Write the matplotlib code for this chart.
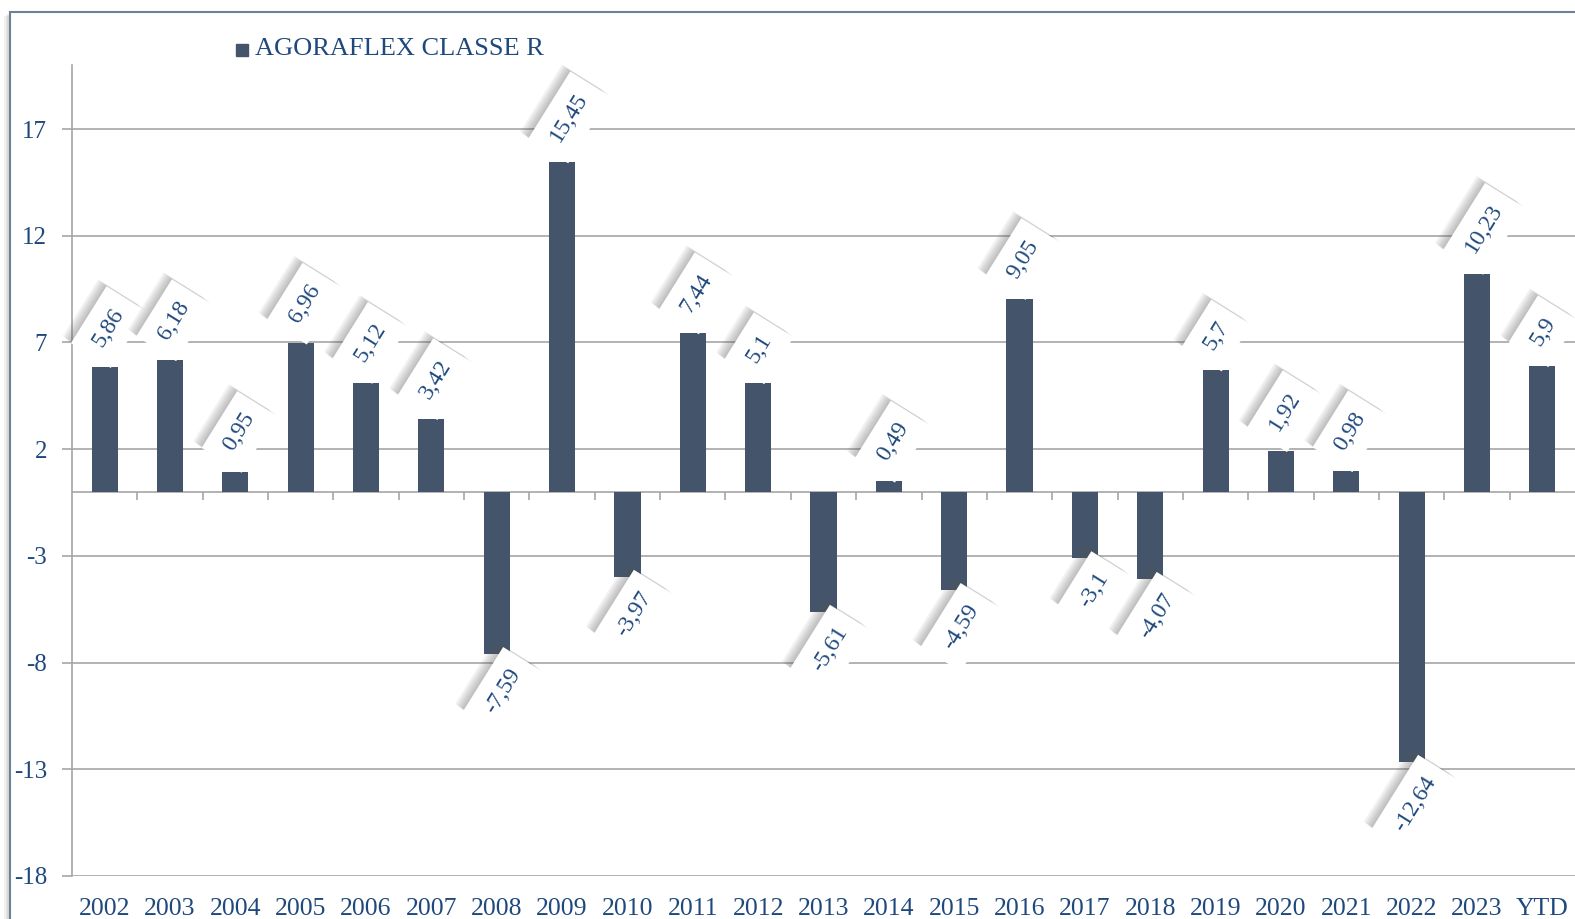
import matplotlib
matplotlib.use('Agg')
import matplotlib.pyplot as plt
import matplotlib.patheffects as pe
from matplotlib.patches import Rectangle
import numpy as np

years = ['2002', '2003', '2004', '2005', '2006', '2007', '2008', '2009', '2010', '2011',
         '2012', '2013', '2014', '2015', '2016', '2017', '2018', '2019', '2020', '2021',
         '2022', '2023', 'YTD']
returns = [5.86, 6.18, 0.95, 6.96, 5.12, 3.42, -7.59, 15.45, -3.97, 7.44,
           5.1, -5.61, 0.49, -4.59, 9.05, -3.1, -4.07, 5.7, 1.92, 0.98,
           -12.64, 10.23, 5.9]
yticks = [17, 12, 7, 2, -3, -8, -13, -18]
series_name = 'AGORAFLEX CLASSE R'

bar_color = '#44546A'
text_color = '#1F497D'
grid_color = '#A6A6A6'

plt.rcParams['font.family'] = ['Liberation Serif', 'DejaVu Serif']

fig = plt.figure(figsize=(15.75, 9.19), dpi=100)
W, H = 1575, 919


def soft_shadow(dx, dy, steps, alpha):
    # fake a blurred drop shadow with a few stacked offsets
    effects = [pe.SimplePatchShadow(offset=(dx * k / steps, dy * k / steps),
                                    shadow_rgbFace='#555555', alpha=alpha)
               for k in range(steps, 0, -1)]
    return effects + [pe.Normal()]


# outer chart frame with a soft shadow (cut by the right/bottom edge)
frame = Rectangle((10 / W, -0.05), 1.05, 1 - 12 / H + 0.05, transform=fig.transFigure,
                  facecolor='white', edgecolor='#6F8098', linewidth=1.5, zorder=-5)
frame.set_path_effects(soft_shadow(-4, -3, 4, 0.08))
fig.patches.append(frame)

ax = fig.add_axes([72 / W, 1 - 876 / H, 1 - 72 / W, (876 - 65) / H])
ax.patch.set_alpha(0)

x = np.arange(len(years))
ax.bar(x, returns, width=0.4, color=bar_color, zorder=3)

ax.set_xlim(-0.5, len(years) - 0.5)
ax.set_ylim(-18, 20)
ax.set_yticks(yticks)
ax.set_yticklabels([str(v) for v in yticks])
ax.yaxis.grid(True, color=grid_color, linewidth=1.2, zorder=0)
ax.set_axisbelow(True)
ax.tick_params(axis='y', length=7, width=1.2, color=grid_color, pad=11,
               labelsize=18, labelcolor=text_color)

ax.set_xticks(x)
ax.set_xticklabels(years)
ax.tick_params(axis='x', length=0, pad=16, labelsize=18.5, labelcolor=text_color)

for side in ['top', 'right', 'bottom']:
    ax.spines[side].set_visible(False)
ax.spines['left'].set_color(grid_color)
ax.spines['left'].set_linewidth(1.2)

# category axis line at zero with boundary tick marks
ax.axhline(0, color=grid_color, linewidth=1.2, zorder=2)
ax.vlines(x[:-1] + 0.5, -0.38, 0, color=grid_color, linewidth=1.2, zorder=2)

# data labels: rotated, white boxes with shadow
for xi, v in zip(x, returns):
    lbl = ('%g' % v).replace('.', ',')
    if v >= 0:
        t = ax.annotate(lbl, (xi, v), xytext=(-5, 16), textcoords='offset points',
                        ha='left', va='center', rotation=58, rotation_mode='anchor',
                        fontsize=17, color=text_color, zorder=5)
    else:
        t = ax.annotate(lbl, (xi, v), xytext=(14, -12), textcoords='offset points',
                        ha='right', va='center', rotation=58, rotation_mode='anchor',
                        fontsize=17, color=text_color, zorder=5)
    t.set_bbox(dict(boxstyle='square,pad=0.55', facecolor='white', edgecolor='none'))
    t.get_bbox_patch().set_path_effects(soft_shadow(-6, 5, 6, 0.07))

# legend
fig.patches.append(Rectangle((236 / W, 1 - 56 / H), 12 / W, 12 / H,
                             transform=fig.transFigure, color=bar_color))
fig.text(255 / W, 1 - 49 / H, series_name, fontsize=19, color=text_color,
         ha='left', va='center')

fig.savefig('out.png', dpi=100)
